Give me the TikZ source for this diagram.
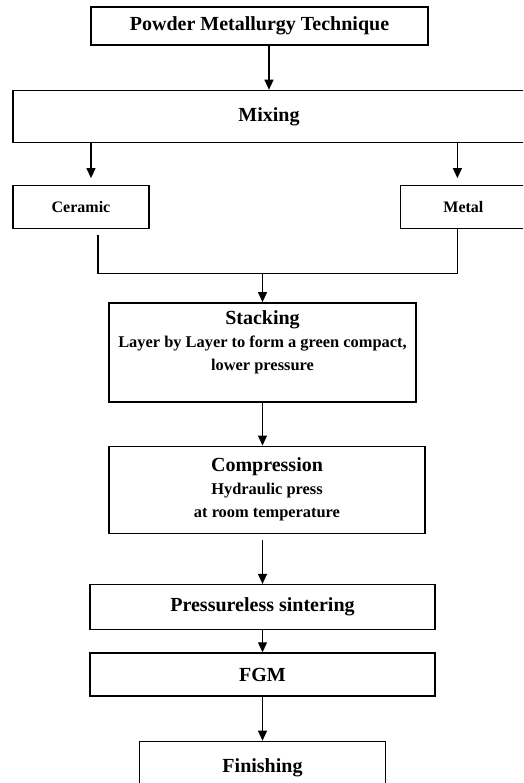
\documentclass[tikz,border=0pt]{standalone}
\usepackage{fontspec}
\setmainfont{Liberation Serif}
\usetikzlibrary{arrows.meta,positioning}

\newcommand{\subtxt}{\fontsize{16.4}{21}\selectfont}

\begin{document}
\begin{tikzpicture}[
  box/.style={draw,line width=1.4pt,align=center,inner sep=0pt,font=\bfseries\fontsize{20}{23}\selectfont},
  small/.style={box,font=\bfseries\fontsize{16}{21}\selectfont},
  arr/.style={-{Triangle[length=10pt,width=9pt]},line width=1.2pt}
]
\useasboundingbox (0,0) rectangle (523pt,-783pt);
\clip (0,0) rectangle (523pt,-783pt);
\node[box,minimum width=337pt,minimum height=38pt] (pm) at (259.5pt,-26pt) {Powder Metallurgy Technique};
\node[box,minimum width=512pt,minimum height=52pt,below=44pt of pm,xshift=9.5pt] (mix) {Mixing};
\node[small,minimum width=136pt,minimum height=43pt,below right=42pt and 0pt of mix.south west] (cer) {Ceramic};
\node[small,minimum width=126pt,minimum height=43pt,right=250pt of cer] (met) {Metal};
\node[box,minimum width=307pt,minimum height=99pt,below=159pt of mix,xshift=-6.5pt] (stack)
  {Stacking\\ \subtxt Layer by Layer to form a green compact,\\ \subtxt lower pressure\\ ~};
\node[box,minimum width=316pt,minimum height=87pt,below=43pt of stack,xshift=4.5pt] (comp)
  {Compression\\ \subtxt Hydraulic press\\ \subtxt at room temperature};
\node[box,minimum width=345pt,minimum height=45pt,below=50pt of comp,xshift=-4.5pt] (press) {Pressureless sintering};
\node[box,minimum width=345pt,minimum height=43pt,below=22pt of press] (fgm) {FGM};
\node[box,minimum width=246pt,minimum height=52pt,below=44pt of fgm] (fin) {Finishing};

\coordinate (ca) at ([xshift=10pt,yshift=7pt]cer.north);
\coordinate (ma) at ([xshift=-6pt,yshift=7pt]met.north);
\coordinate (cl) at ([xshift=17pt,yshift=-6pt]cer.south);
\coordinate (jn) at ([yshift=-38pt]cl);
\coordinate (cb) at ([yshift=-6pt]comp.south);

\draw[arr] (mix.north |- pm.south) -- (mix.north);
\draw[arr] (mix.south -| ca) -- (ca);
\draw[arr] (mix.south -| ma) -- (ma);
\draw[line width=1.2pt] (cl) -- (jn) -| ([xshift=-6pt]met.south);
\draw[arr] (stack.north |- jn) -- (stack.north);
\draw[arr] (stack.south) -- (stack.south |- comp.north);
\draw[arr] (press.north |- cb) -- (press.north);
\draw[arr] (press) -- (fgm);
\draw[arr] (fgm) -- (fin);
\end{tikzpicture}
\end{document}
